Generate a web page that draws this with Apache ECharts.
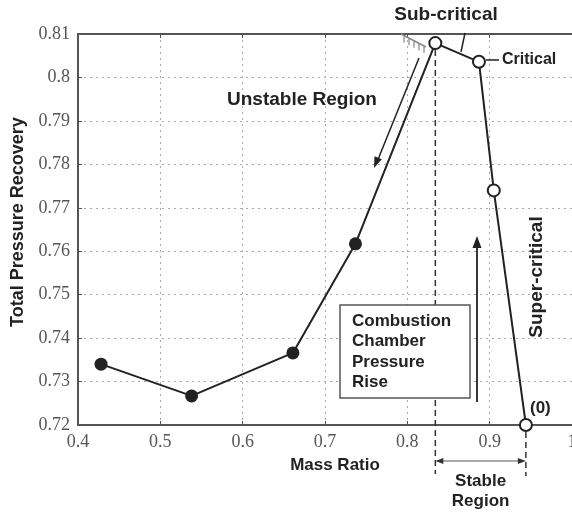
<!DOCTYPE html>
<html><head><meta charset="utf-8">
<script src="https://cdn.jsdelivr.net/npm/echarts@6/dist/echarts.min.js"></script>
<style>html,body{margin:0;padding:0;background:#fff}#c{width:572px;height:514px}</style>
</head><body><div id="c"></div>
<script>
// Data
const massRatio = [0.428, 0.538, 0.661, 0.737, 0.834, 0.887, 0.905, 0.944];
const pressureRecovery = [0.734, 0.7267, 0.7366, 0.7617, 0.8079, 0.8036, 0.7740, 0.7200];
const openMarker = [false, false, false, false, true, true, true, true];
const xRange = [0.4, 1.0];
const yRange = [0.72, 0.81];
const boxLines = ['Combustion', 'Chamber', 'Pressure', 'Rise'];

const SANS = '"Liberation Sans", Arial, sans-serif';
const SERIF = '"Liberation Serif", "Times New Roman", serif';
const INK = '#222';

const chart = echarts.init(document.getElementById('c'), null, {renderer: 'canvas'});

const seriesData = massRatio.map((x, i) => ({
  value: [x, pressureRecovery[i]],
  symbolSize: openMarker[i] ? 12 : 13,
  itemStyle: openMarker[i]
    ? {color: '#fff', borderColor: INK, borderWidth: 2}
    : {color: INK, borderColor: INK, borderWidth: 0}
}));

const axisCommon = {
  type: 'value',
  axisLine: {show: true, lineStyle: {color: '#555', width: 2}},
  axisTick: {show: true, inside: true, length: 4, lineStyle: {color: '#555', width: 1}},
  splitLine: {show: true, lineStyle: {color: '#aaa', type: [2, 4], width: 1}},
  axisLabel: {color: '#555', fontFamily: SERIF, fontSize: 18}
};

chart.setOption({
  animation: false,
  grid: {left: 78, top: 34, width: 494, height: 391, containLabel: false, outerBoundsMode: 'none'},
  xAxis: [
    Object.assign({}, axisCommon, {
      position: 'bottom', min: xRange[0], max: xRange[1], interval: 0.1,
      axisLabel: Object.assign({}, axisCommon.axisLabel, {margin: 8})
    }),
    Object.assign({}, axisCommon, {
      position: 'top', min: xRange[0], max: xRange[1], interval: 0.1,
      axisLabel: {show: false}, splitLine: {show: false}
    })
  ],
  yAxis: Object.assign({}, axisCommon, {
    min: yRange[0], max: yRange[1], interval: 0.01,
    axisLabel: Object.assign({}, axisCommon.axisLabel, {margin: 8})
  }),
  series: [{
    type: 'line',
    xAxisIndex: 0,
    data: seriesData,
    symbol: 'circle',
    lineStyle: {color: INK, width: 2},
    z: 5,
    clip: false
  }]
});

function px(x, y) { return chart.convertToPixel({gridIndex: 0}, [x, y]); }

function seg(x1, y1, x2, y2, color, width, dash) {
  return {type: 'line', shape: {x1, y1, x2, y2}, z: 10,
    style: {stroke: color, lineWidth: width, lineDash: dash || null}};
}
function head(x1, y1, x2, y2, len, w, color) {
  const dx = x2 - x1, dy = y2 - y1, L = Math.hypot(dx, dy);
  const ux = dx / L, uy = dy / L, nx = -uy, ny = ux;
  const bx = x2 - ux * len, by = y2 - uy * len;
  return {type: 'polygon', z: 10, shape: {points: [[x2, y2], [bx + nx * w, by + ny * w], [bx - nx * w, by - ny * w]]},
    style: {fill: color}};
}
function txt(text, x, y, size, opts) {
  return Object.assign({type: 'text', x, y, z: 12,
    style: Object.assign({text, fill: INK, font: 'bold ' + size + 'px ' + SANS,
      textAlign: 'center', textVerticalAlign: 'middle'}, (opts && opts.style) || {})},
    opts && opts.extra || {});
}

const pPeak = px(massRatio[4], pressureRecovery[4]);
const pZero = px(massRatio[7], pressureRecovery[7]);
const dashX1 = pPeak[0], dashX2 = pZero[0];

const graphics = [];
// axis titles
graphics.push(txt('Total Pressure Recovery', 18, 222, 18, {extra: {rotation: Math.PI / 2}}));
graphics.push(txt('Mass Ratio', 335, 465, 17));
// region labels
graphics.push(txt('Unstable Region', 227, 100, 19, {style: {textAlign: 'left'}}));
graphics.push(txt('Sub-critical', 446, 15, 19));
graphics.push(txt('Critical', 502, 60, 16, {style: {textAlign: 'left'}}));
graphics.push(seg(486, 60, 499, 60, INK, 1.5));
graphics.push(seg(465, 33, 461, 52, INK, 1.5));
graphics.push(txt('Super-critical', 537, 277, 19, {extra: {rotation: Math.PI / 2}}));
graphics.push(txt('(0)', 530, 408, 17, {style: {textAlign: 'left'}}));
// surge hatch
graphics.push(seg(401, 34, 426, 47, '#888', 1.5));
for (let k = 0; k < 5; k++) {
  const hx = 404 + k * 5, hy = 34 + (hx - 401) * 13 / 25;
  graphics.push(seg(hx, hy, hx, hy + 7, '#888', 1.2));
}
// unstable arrow
graphics.push(seg(419, 58, 377, 162, INK, 1.5));
graphics.push(head(419, 58, 374, 168, 11, 4, INK));
// pressure-rise arrow
graphics.push(seg(477, 402, 477, 246, INK, 1.8));
graphics.push(head(477, 402, 477, 236, 12, 4.5, INK));
// box
graphics.push({type: 'rect', z: 11, shape: {x: 340, y: 305, width: 130, height: 93},
  style: {fill: '#fff', stroke: '#555', lineWidth: 1.5}});
boxLines.forEach((t, i) => {
  graphics.push(txt(t, 352, 321 + i * 20.5, 17, {style: {textAlign: 'left'}}));
});
// dashed verticals
graphics.push(seg(dashX1, 50, dashX1, 474, '#333', 1.5, [6, 4]));
graphics.push(seg(dashX2, 432, dashX2, 476, '#333', 1.5, [6, 4]));
// stable region double arrow
graphics.push(seg(dashX1 + 4, 461, dashX2 - 4, 461, '#555', 1));
graphics.push(head(dashX2 - 20, 461, dashX1, 461, 8, 3, '#333'));
graphics.push(head(dashX1 + 20, 461, dashX2, 461, 8, 3, '#333'));
graphics.push(txt('Stable', (dashX1 + dashX2) / 2, 481, 17));
graphics.push(txt('Region', (dashX1 + dashX2) / 2, 501, 17));

chart.setOption({graphic: graphics});
</script>
</body></html>
